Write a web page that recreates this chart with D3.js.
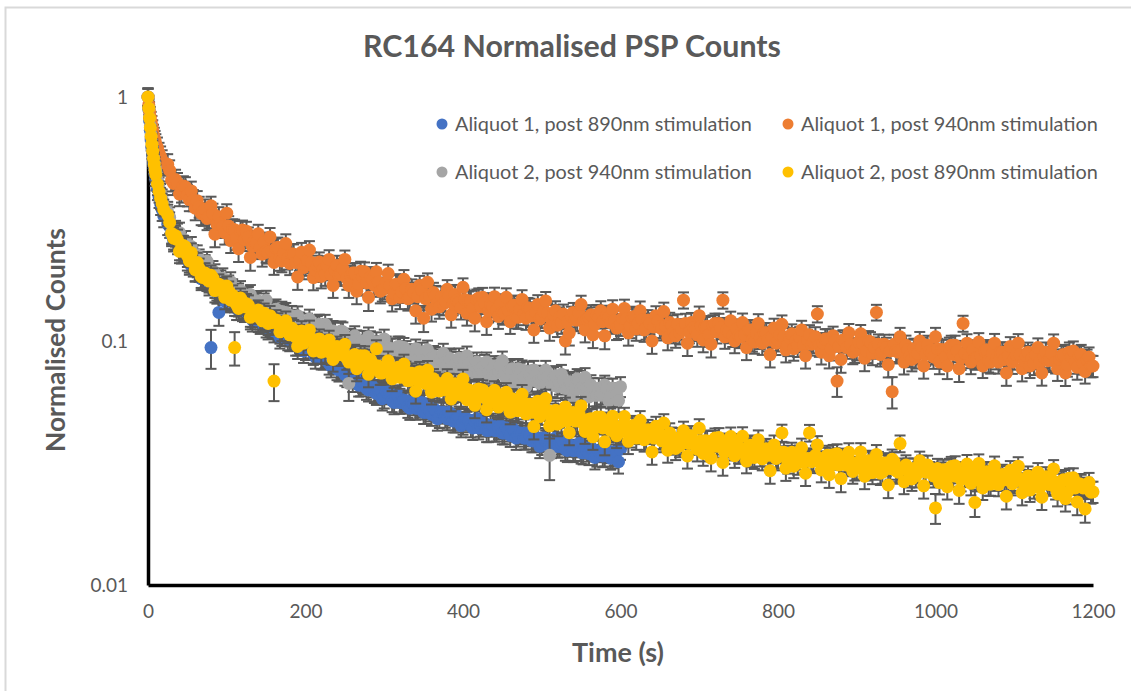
<!DOCTYPE html>
<html><head><meta charset="utf-8">
<script src="https://cdn.jsdelivr.net/npm/d3@7"></script>
<style>body{margin:0;background:#fff} text{font-family:Lato,'Open Sans',sans-serif}</style>
</head><body><svg id="c" width="1131" height="691"></svg>
<script>
// ---------------- DATA ----------------
// Two interleaved sets of readings: set A at 0..20 s then every 5 s from 25 s,
// set B every 5 s from 27.5 s.
const earlyTimes = [0,1,2,3,4,5,6,7,8,9,10,12,14,16,18,20];
const timesA = earlyTimes.concat(d3.range(25, 1201, 5));
const timesB = d3.range(27.5, 1200, 5);

const seriesNames = [
  "Aliquot 1, post 890nm stimulation",
  "Aliquot 1, post 940nm stimulation",
  "Aliquot 2, post 940nm stimulation",
  "Aliquot 2, post 890nm stimulation"
];
const seriesColors = ["#4472C4", "#ED7D31", "#A5A5A5", "#FFC000"];

const aliquot1_890_A = [
  1.00,0.89,0.80,0.73,0.67,0.62,0.58,0.54,0.51,0.48,0.46,0.42,0.39,0.365,0.345,0.325,
  0.302,0.272,0.262,0.238,0.233,0.216,0.212,0.196,0.194,0.181,
  0.178,0.094,0.166,0.131,0.156,0.15,0.148,0.141,0.14,0.134,
  0.133,0.127,0.127,0.121,0.121,0.115,0.116,0.11,0.111,0.106,
  0.106,0.101,0.102,0.097,0.098,0.093,0.094,0.089,0.09,0.085,
  0.086,0.081,0.082,0.077,0.078,0.073,0.074,0.069,0.071,0.066,
  0.067,0.063,0.065,0.061,0.063,0.059,0.061,0.057,0.059,0.056,
  0.057,0.054,0.056,0.053,0.054,0.051,0.053,0.05,0.052,0.049,
  0.051,0.048,0.05,0.047,0.049,0.046,0.048,0.045,0.047,0.044,
  0.046,0.043,0.045,0.043,0.044,0.042,0.044,0.041,0.043,0.041,
  0.042,0.04,0.041,0.039,0.04,0.038,0.039,0.037,0.039,0.037,
  0.038,0.036,0.0375,0.0355,0.037,0.035,0.0365,0.0345,0.036,0.034,
  0.0355,0.034,0.035,0.0335,0.0355,0.036
];
const aliquot1_890_B = [
  0.294,0.259,0.252,0.231,0.233,0.208,0.204,0.202,0.180,0.184,
  0.171,0.173,0.158,0.159,0.146,0.153,0.148,0.136,0.143,0.133,
  0.134,0.122,0.126,0.119,0.124,0.113,0.114,0.115,0.104,0.109,
  0.102,0.106,0.097,0.099,0.091,0.097,0.094,0.086,0.092,0.085,
  0.087,0.079,0.081,0.076,0.080,0.072,0.072,0.073,0.066,0.068,
  0.064,0.067,0.062,0.063,0.058,0.062,0.061,0.056,0.060,0.056,
  0.057,0.053,0.055,0.053,0.056,0.051,0.052,0.053,0.048,0.051,
  0.049,0.051,0.047,0.048,0.045,0.048,0.047,0.044,0.048,0.045,
  0.046,0.043,0.045,0.043,0.045,0.042,0.043,0.044,0.040,0.042,
  0.040,0.042,0.039,0.040,0.037,0.040,0.039,0.037,0.040,0.037,
  0.0385,0.0356,0.0372,0.0358,0.038,0.0348,0.0356,0.0367,0.0333,0.0354,
  0.0338,0.0357,0.0331,0.0342,0.032
];

const aliquot1_940_A = [
  1.00,0.93,0.87,0.83,0.79,0.76,0.73,0.70,0.68,0.66,0.64,0.62,0.59,0.57,0.55,0.53,
  0.53,0.456,0.459,0.40,0.432,0.396,0.412,0.35,0.355,0.331,
  0.318,0.358,0.274,0.323,0.294,0.334,0.258,0.286,0.239,0.285,
  0.282,0.220,0.257,0.275,0.227,0.233,0.267,0.210,0.242,0.213,
  0.251,0.208,0.227,0.183,0.231,0.206,0.236,0.182,0.204,0.184,
  0.188,0.216,0.169,0.204,0.188,0.216,0.169,0.190,0.160,0.193,
  0.192,0.151,0.179,0.192,0.160,0.165,0.189,0.149,0.171,0.151,
  0.179,0.149,0.163,0.133,0.169,0.124,0.174,0.135,0.153,0.138,
  0.142,0.163,0.128,0.155,0.144,0.166,0.130,0.146,0.124,0.150,
  0.151,0.120,0.141,0.152,0.126,0.131,0.151,0.120,0.140,0.125,
  0.148,0.124,0.136,0.111,0.141,0.126,0.146,0.113,0.128,0.116,
  0.119,0.100,0.108,0.131,0.122,0.141,0.111,0.125,0.106,0.128,
  0.133,0.105,0.125,0.135,0.113,0.117,0.136,0.108,0.125,0.112,
  0.133,0.111,0.122,0.100,0.127,0.114,0.132,0.103,0.116,0.105,
  0.108,0.147,0.098,0.119,0.111,0.127,0.101,0.115,0.097,0.118,
  0.118,0.147,0.111,0.121,0.100,0.105,0.119,0.094,0.111,0.099,
  0.118,0.098,0.108,0.088,0.113,0.101,0.117,0.092,0.103,0.093,
  0.096,0.111,0.087,0.106,0.099,0.129,0.090,0.102,0.087,0.105,
  0.0685,0.084,0.099,0.108,0.090,0.093,0.107,0.085,0.100,0.089,
  0.131,0.088,0.097,0.080,0.062,0.091,0.104,0.082,0.092,0.084,
  0.086,0.100,0.079,0.096,0.089,0.104,0.082,0.092,0.079,0.096,
  0.096,0.077,0.118,0.098,0.082,0.085,0.099,0.079,0.092,0.082,
  0.098,0.082,0.090,0.074,0.095,0.085,0.098,0.077,0.087,0.079,
  0.081,0.094,0.074,0.090,0.084,0.098,0.077,0.087,0.074,0.090,
  0.091,0.078,0.088,0.075,0.086,0.079
];
const aliquot1_940_B = [
  0.50,0.442,0.444,0.412,0.428,0.380,0.378,0.376,0.333,0.347,
  0.323,0.333,0.301,0.304,0.278,0.296,0.287,0.264,0.282,0.260,
  0.266,0.244,0.253,0.241,0.254,0.231,0.234,0.240,0.217,0.230,
  0.218,0.228,0.210,0.215,0.200,0.214,0.210,0.195,0.211,0.197,
  0.203,0.187,0.195,0.187,0.198,0.181,0.185,0.190,0.172,0.183,
  0.173,0.183,0.169,0.174,0.162,0.174,0.169,0.157,0.170,0.159,
  0.164,0.151,0.158,0.152,0.162,0.149,0.153,0.158,0.143,0.152,
  0.146,0.153,0.142,0.147,0.137,0.148,0.145,0.136,0.148,0.138,
  0.143,0.133,0.139,0.134,0.142,0.130,0.134,0.139,0.126,0.135,
  0.129,0.137,0.127,0.131,0.123,0.132,0.130,0.122,0.133,0.125,
  0.129,0.120,0.126,0.122,0.130,0.120,0.123,0.128,0.117,0.125,
  0.120,0.127,0.119,0.121,0.114,0.124,0.123,0.115,0.126,0.118,
  0.122,0.113,0.118,0.114,0.121,0.112,0.115,0.119,0.109,0.117,
  0.112,0.118,0.109,0.113,0.106,0.115,0.114,0.106,0.116,0.109,
  0.113,0.104,0.109,0.105,0.112,0.104,0.106,0.111,0.101,0.108,
  0.103,0.108,0.101,0.104,0.098,0.106,0.104,0.097,0.107,0.100,
  0.104,0.096,0.101,0.097,0.104,0.096,0.098,0.102,0.093,0.100,
  0.095,0.101,0.094,0.097,0.091,0.099,0.098,0.091,0.099,0.094,
  0.097,0.090,0.094,0.091,0.097,0.090,0.092,0.096,0.087,0.093,
  0.089,0.094,0.088,0.091,0.086,0.093,0.092,0.086,0.094,0.088,
  0.091,0.085,0.089,0.086,0.092,0.085,0.087,0.091,0.083,0.089,
  0.085,0.090,0.084,0.087,0.082,0.088,0.088,0.083,0.090,0.085,
  0.088,0.082,0.086,0.083,0.089,0.082,0.084,0.088,0.080,0.086,
  0.082,0.087,0.081,0.084,0.079
];

const aliquot2_940_A = [
  1.00,0.90,0.82,0.76,0.70,0.65,0.61,0.57,0.54,0.515,0.495,0.455,0.425,0.40,0.38,0.36,
  0.338,0.279,0.283,0.278,0.244,0.238,0.244,0.209,0.216,0.199,
  0.212,0.182,0.188,0.162,0.181,0.165,0.175,0.147,0.157,0.144,
  0.145,0.155,0.132,0.146,0.136,0.147,0.126,0.134,0.12,0.132,
  0.131,0.113,0.122,0.127,0.112,0.114,0.123,0.106,0.115,0.107,
  0.117,0.104,0.110,0.096,0.110,0.102,0.067,0.094,0.101,0.095,
  0.094,0.104,0.087,0.099,0.093,0.102,0.086,0.093,0.083,0.095,
  0.094,0.079,0.088,0.093,0.082,0.083,0.092,0.078,0.086,0.08,
  0.089,0.079,0.084,0.073,0.085,0.079,0.087,0.073,0.079,0.074,
  0.075,0.082,0.07,0.079,0.075,0.083,0.07,0.076,0.067,0.077,
  0.076,0.065,0.072,0.076,0.068,0.069,0.076,0.034,0.071,0.065,
  0.073,0.064,0.068,0.059,0.070,0.064,0.071,0.059,0.064,0.06,
  0.06,0.066,0.057,0.064,0.06,0.065
];
const aliquot2_940_B = [
  0.321,0.278,0.275,0.253,0.258,0.228,0.225,0.225,0.198,0.205,
  0.190,0.194,0.176,0.177,0.161,0.169,0.163,0.150,0.161,0.149,
  0.152,0.139,0.143,0.136,0.143,0.130,0.132,0.135,0.122,0.129,
  0.122,0.127,0.116,0.119,0.111,0.118,0.116,0.108,0.117,0.109,
  0.112,0.103,0.108,0.103,0.109,0.099,0.102,0.105,0.095,0.100,
  0.096,0.100,0.093,0.095,0.089,0.095,0.093,0.087,0.095,0.089,
  0.091,0.084,0.088,0.084,0.090,0.082,0.084,0.087,0.079,0.084,
  0.081,0.085,0.079,0.082,0.076,0.082,0.081,0.076,0.082,0.077,
  0.080,0.074,0.077,0.074,0.079,0.073,0.074,0.077,0.070,0.074,
  0.071,0.075,0.069,0.072,0.067,0.072,0.071,0.066,0.072,0.067,
  0.069,0.064,0.067,0.064,0.069,0.063,0.064,0.066,0.060,0.064,
  0.061,0.064,0.059,0.061,0.057
];

const aliquot2_890_A = [
  1.00,0.90,0.82,0.75,0.69,0.64,0.60,0.56,0.53,0.50,0.48,0.44,0.41,0.385,0.365,0.345,
  0.329,0.276,0.270,0.233,0.246,0.224,0.230,0.196,0.198,0.182,
  0.179,0.186,0.161,0.171,0.161,0.168,0.147,0.094,0.136,0.145,
  0.142,0.125,0.132,0.134,0.121,0.122,0.127,0.0685,0.118,0.111,
  0.121,0.106,0.111,0.095,0.110,0.102,0.111,0.091,0.099,0.090,
  0.091,0.101,0.084,0.095,0.088,0.097,0.082,0.087,0.077,0.087,
  0.087,0.073,0.081,0.093,0.074,0.075,0.083,0.070,0.077,0.071,
  0.0805,0.0688,0.0737,0.0623,0.0749,0.0678,0.076,0.0617,0.0678,0.0624,
  0.0631,0.0702,0.0579,0.0668,0.0624,0.0699,0.0575,0.0624,0.0545,0.0636,
  0.063,0.0523,0.0594,0.0628,0.0536,0.0554,0.0616,0.0511,0.0572,0.0518,
  0.0605,0.0503,0.0551,0.0446,0.0567,0.0505,0.0581,0.0449,0.0505,0.0456,
  0.0467,0.0537,0.0421,0.0509,0.0471,0.0543,0.0426,0.0478,0.0405,0.0488,
  0.0488,0.0386,0.0455,0.0492,0.0409,0.0424,0.049,0.0388,0.0449,0.04,
  0.0473,0.0394,0.0433,0.0351,0.0447,0.0399,0.0461,0.0357,0.0402,0.0363,
  0.0372,0.0429,0.0338,0.0409,0.038,0.0439,0.0346,0.0389,0.0331,0.04,
  0.0402,0.0318,0.0375,0.0406,0.0339,0.0351,0.0407,0.0322,0.0374,0.0333,
  0.0394,0.0329,0.0362,0.0294,0.0375,0.0335,0.042,0.0301,0.0339,0.0307,
  0.0316,0.0365,0.0287,0.042,0.0325,0.0375,0.0296,0.0333,0.0283,0.0342,
  0.0345,0.0273,0.0322,0.035,0.0292,0.0303,0.0351,0.0279,0.0323,0.0289,
  0.0343,0.0287,0.0316,0.0257,0.0328,0.0294,0.038,0.0265,0.03,0.0272,
  0.028,0.0323,0.0255,0.031,0.0288,0.0207,0.0263,0.0297,0.0253,0.0306,
  0.0308,0.0244,0.0289,0.0313,0.0261,0.0218,0.0315,0.025,0.0291,0.0259,
  0.0308,0.0258,0.0284,0.0231,0.0295,0.0265,0.0307,0.0239,0.027,0.0245,
  0.0252,0.029,0.0229,0.0278,0.0258,0.0299,0.0236,0.0266,0.0226,0.0274,
  0.0275,0.0219,0.0258,0.0205,0.0263,0.0241
];
const aliquot2_890_B = [
  0.306,0.264,0.260,0.238,0.243,0.213,0.21,0.210,0.184,0.190,
  0.176,0.181,0.163,0.165,0.151,0.160,0.154,0.141,0.150,0.138,
  0.140,0.127,0.131,0.124,0.130,0.118,0.119,0.122,0.109,0.115,
  0.109,0.113,0.104,0.106,0.098,0.105,0.102,0.095,0.102,0.095,
  0.097,0.089,0.092,0.088,0.093,0.085,0.086,0.088,0.079,0.084,
  0.080,0.084,0.077,0.079,0.074,0.079,0.078,0.072,0.078,0.073,
  0.075,0.069,0.072,0.069,0.073,0.067,0.068,0.070,0.063,0.067,
  0.064,0.067,0.062,0.064,0.060,0.064,0.063,0.058,0.063,0.059,
  0.061,0.056,0.058,0.056,0.060,0.055,0.056,0.058,0.052,0.055,
  0.053,0.055,0.051,0.053,0.049,0.053,0.052,0.048,0.052,0.049,
  0.050,0.047,0.049,0.047,0.050,0.046,0.047,0.048,0.044,0.046,
  0.044,0.046,0.043,0.045,0.042,0.045,0.044,0.041,0.045,0.042,
  0.043,0.040,0.042,0.040,0.043,0.039,0.040,0.042,0.038,0.040,
  0.038,0.040,0.038,0.039,0.036,0.039,0.039,0.036,0.039,0.037,
  0.038,0.035,0.037,0.036,0.038,0.035,0.036,0.037,0.034,0.036,
  0.034,0.036,0.034,0.035,0.033,0.035,0.035,0.032,0.035,0.033,
  0.034,0.032,0.033,0.032,0.034,0.032,0.032,0.034,0.031,0.033,
  0.031,0.033,0.031,0.032,0.030,0.032,0.032,0.030,0.032,0.030,
  0.032,0.029,0.031,0.030,0.032,0.029,0.030,0.031,0.028,0.030,
  0.029,0.031,0.029,0.029,0.028,0.030,0.029,0.028,0.030,0.028,
  0.029,0.027,0.028,0.028,0.029,0.027,0.028,0.029,0.026,0.028,
  0.027,0.028,0.027,0.027,0.026,0.028,0.027,0.026,0.028,0.026,
  0.027,0.025,0.026,0.026,0.027,0.025,0.026,0.027,0.024,0.026,
  0.025,0.026,0.025,0.025,0.024
];

const seriesA = [aliquot1_890_A, aliquot1_940_A, aliquot2_940_A, aliquot2_890_A];
const seriesB = [aliquot1_890_B, aliquot1_940_B, aliquot2_940_B, aliquot2_890_B];
const relativeError = 0.1; // error bar half-size relative to the local level

const xTicks = [0, 200, 400, 600, 800, 1000, 1200];
const yTicks = [0.01, 0.1, 1];
const yTickLabels = ["0.01", "0.1", "1"];

// ---------------- CHART ----------------
const svg = d3.select("#c");
const textColor = "#595959";

svg.append("rect").attr("x", 5.5).attr("y", 7.5).attr("width", 1140).attr("height", 700)
  .attr("fill", "#fff").attr("stroke", "#d9d9d9").attr("stroke-width", 2);

const x = d3.scaleLinear().domain([0, 1200]).range([148, 1093]);
const y = d3.scaleLog().domain([0.01, 1]).range([585, 97]);

function fitWidth(sel, w) {
  const cur = sel.node().getComputedTextLength();
  const fs = parseFloat(sel.attr("font-size"));
  sel.attr("font-size", fs * w / cur);
  return fs * w / cur;
}

// Title
const title = svg.append("text").attr("x", 572).attr("y", 57).attr("text-anchor", "middle")
  .attr("font-size", 24).attr("font-weight", "bold").attr("fill", textColor)
  .text("RC164 Normalised PSP Counts");
fitWidth(title, 418);

// Axes (lines only, no tick marks)
const xAxis = svg.append("g").attr("transform", "translate(0,585)")
  .call(d3.axisBottom(x).tickValues(xTicks).tickSize(0).tickPadding(20).tickFormat(d3.format("d")));
xAxis.select(".domain").attr("stroke", "#000").attr("stroke-width", 3.5);
xAxis.selectAll("text").attr("fill", textColor).attr("font-size", 19).attr("font-family", "Lato,'Open Sans',sans-serif");

const yAxis = svg.append("g").attr("transform", "translate(148,0)")
  .call(d3.axisLeft(y).tickValues(yTicks).tickSize(0).tickPadding(20).tickFormat((d, i) => yTickLabels[i]));
yAxis.select(".domain").attr("stroke", "#000").attr("stroke-width", 3.5);
yAxis.selectAll("text").attr("fill", textColor).attr("font-size", 19).attr("font-family", "Lato,'Open Sans',sans-serif");

// Axis titles
const xt = svg.append("text").attr("x", 618).attr("y", 662).attr("text-anchor", "middle")
  .attr("font-size", 22).attr("font-weight", "bold").attr("fill", textColor).text("Time (s)");
fitWidth(xt, 92);
const yt = svg.append("text").attr("transform", "translate(65,340) rotate(-90)").attr("text-anchor", "middle")
  .attr("font-size", 22).attr("font-weight", "bold").attr("fill", textColor).text("Normalised Counts");
fitWidth(yt, 224);

// Series
const plot = svg.append("g");
seriesA.forEach((valsA, si) => {
  const valsB = seriesB[si];
  const pts = valsA.map((v, i) => ({ t: timesA[i], v }))
    .concat(valsB.map((v, i) => ({ t: timesB[i], v })))
    .sort((a, b) => a.t - b.t);
  pts.forEach((p, i) => {
    const win = pts.slice(Math.max(0, i - 4), i + 5).map(d => d.v);
    p.e = relativeError * d3.median(win);
  });
  const g = plot.append("g");
  const eb = g.append("g").attr("stroke", "#595959").attr("stroke-width", 2);
  pts.forEach(p => {
    const y1 = y(p.v + p.e), y2 = y(Math.max(p.v - p.e, 0.0101)), cx = x(p.t);
    eb.append("line").attr("x1", cx).attr("x2", cx).attr("y1", y1).attr("y2", y2);
    eb.append("line").attr("x1", cx - 5.5).attr("x2", cx + 5.5).attr("y1", y1).attr("y2", y1);
    eb.append("line").attr("x1", cx - 5.5).attr("x2", cx + 5.5).attr("y1", y2).attr("y2", y2);
  });
  g.append("g").selectAll("circle").data(pts).join("circle")
    .attr("cx", d => x(d.t)).attr("cy", d => y(d.v)).attr("r", 6.5)
    .attr("fill", seriesColors[si]);
});

// Legend
const legendPos = [[442, 124], [788, 124], [442, 172], [788, 172]];
const lg = svg.append("g");
let legendFs = null;
seriesNames.forEach((name, i) => {
  const [lx, ly] = legendPos[i];
  lg.append("circle").attr("cx", lx).attr("cy", ly).attr("r", 5.5).attr("fill", seriesColors[i]);
  const t = lg.append("text").attr("x", lx + 13).attr("y", ly + 6.5).attr("font-size", legendFs || 17)
    .attr("fill", textColor).text(name);
  if (legendFs === null) legendFs = fitWidth(t, 297);
});
</script></body></html>
